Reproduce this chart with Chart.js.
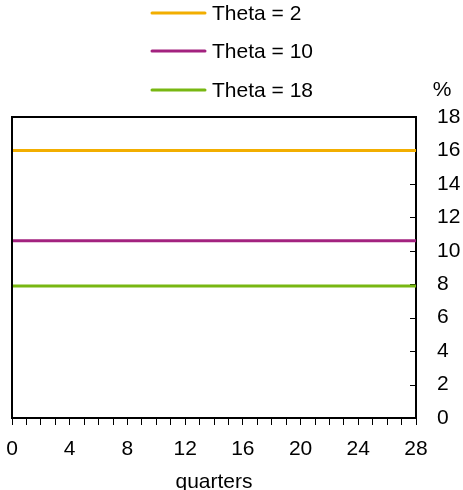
<!DOCTYPE html>
<html>
<head>
<meta charset="utf-8">
<script src="https://cdn.jsdelivr.net/npm/chart.js@4/dist/chart.umd.min.js"></script>
<style>
html,body{margin:0;padding:0;background:#fff;}
#wrap{width:463px;height:490px;position:relative;}
</style>
</head>
<body>
<div id="wrap"><canvas id="c" width="463" height="490"></canvas></div>
<script>
const quarters = [0,1,2,3,4,5,6,7,8,9,10,11,12,13,14,15,16,17,18,19,20,21,22,23,24,25,26,27,28];
const theta2  = [16,16,16,16,16,16,16,16,16,16,16,16,16,16,16,16,16,16,16,16,16,16,16,16,16,16,16,16,16];
const theta10 = [10.6,10.6,10.6,10.6,10.6,10.6,10.6,10.6,10.6,10.6,10.6,10.6,10.6,10.6,10.6,10.6,10.6,10.6,10.6,10.6,10.6,10.6,10.6,10.6,10.6,10.6,10.6,10.6,10.6];
const theta18 = [7.9,7.9,7.9,7.9,7.9,7.9,7.9,7.9,7.9,7.9,7.9,7.9,7.9,7.9,7.9,7.9,7.9,7.9,7.9,7.9,7.9,7.9,7.9,7.9,7.9,7.9,7.9,7.9,7.9];
const seriesLabels = ['Theta = 2','Theta = 10','Theta = 18'];
const yUnit = '%';
const xTitle = 'quarters';

const FONT = '"Liberation Sans", Arial, sans-serif';
const colors = ['#F2AE00','#A3227F','#78B712'];

function pts(vals){ return vals.map((v,i)=>({x:quarters[i], y:v})); }

const extras = {
  id:'extras',
  beforeDatasetsDraw(chart){
    const ctx = chart.ctx, a = chart.chartArea, y = chart.scales.y;
    ctx.save();
    ctx.strokeStyle = '#000'; ctx.lineWidth = 1;
    y.ticks.forEach(t=>{
      const py = Math.round(y.getPixelForValue(t.value))+0.5;
      ctx.beginPath(); ctx.moveTo(a.right-6, py); ctx.lineTo(a.right, py); ctx.stroke();
    });
    ctx.restore();
  },
  afterDraw(chart){
    const ctx = chart.ctx, a = chart.chartArea;
    ctx.save();
    ctx.strokeStyle = '#000'; ctx.lineWidth = 2;
    ctx.beginPath();
    ctx.moveTo(a.left, a.bottom); ctx.lineTo(a.left, a.top); ctx.lineTo(a.right, a.top);
    ctx.stroke();
    ctx.fillStyle = '#000';
    ctx.font = '21px ' + FONT;
    ctx.textAlign = 'center'; ctx.textBaseline = 'middle';
    ctx.fillText(yUnit, 442, 90);
    const rows = [13, 51, 90];
    chart.data.datasets.forEach((ds,i)=>{
      ctx.strokeStyle = ds.borderColor; ctx.lineWidth = 3; ctx.lineCap = 'round';
      ctx.beginPath(); ctx.moveTo(152, rows[i]); ctx.lineTo(205, rows[i]); ctx.stroke();
      ctx.fillStyle = '#000'; ctx.textAlign = 'left'; ctx.textBaseline = 'middle';
      ctx.fillText(ds.label, 212, rows[i]+1);
    });
    ctx.restore();
  }
};

new Chart(document.getElementById('c'), {
  type:'line',
  data:{
    datasets:[
      {label:seriesLabels[0], data:pts(theta2),  borderColor:colors[0], borderWidth:3, pointRadius:0, tension:0, clip:4},
      {label:seriesLabels[1], data:pts(theta10), borderColor:colors[1], borderWidth:3, pointRadius:0, tension:0, clip:4},
      {label:seriesLabels[2], data:pts(theta18), borderColor:colors[2], borderWidth:3, pointRadius:0, tension:0, clip:4}
    ]
  },
  options:{
    responsive:false,
    animation:false,
    devicePixelRatio:1,
    layout:{padding:{left:12, top:117, right:0, bottom:0}},
    plugins:{legend:{display:false}, tooltip:{enabled:false}},
    scales:{
      x:{
        type:'linear', min:0, max:28,
        afterFit(s){ s.height = 72; s.paddingLeft = 0; s.paddingRight = 0; },
        ticks:{stepSize:1, autoSkip:false, maxRotation:0, color:'#000', font:{size:21, family:FONT}, padding:12,
          callback:(v)=> (v % 4 === 0 ? String(v) : '')},
        grid:{drawOnChartArea:false, drawTicks:true, tickLength:7, color:'#000', lineWidth:1},
        border:{display:true, color:'#000', width:2},
        title:{display:true, text:xTitle, color:'#000', font:{size:21, family:FONT}, padding:{top:0,bottom:-5}}
      },
      y:{
        position:'right', min:0, max:18,
        afterFit(s){ s.width = 47; s.paddingTop = 0; s.paddingBottom = 0; },
        ticks:{stepSize:2, color:'#000', font:{size:21, family:FONT}, padding:21},
        grid:{display:false, drawTicks:false},
        border:{display:true, color:'#000', width:2}
      }
    }
  },
  plugins:[extras]
});
</script>
</body>
</html>
